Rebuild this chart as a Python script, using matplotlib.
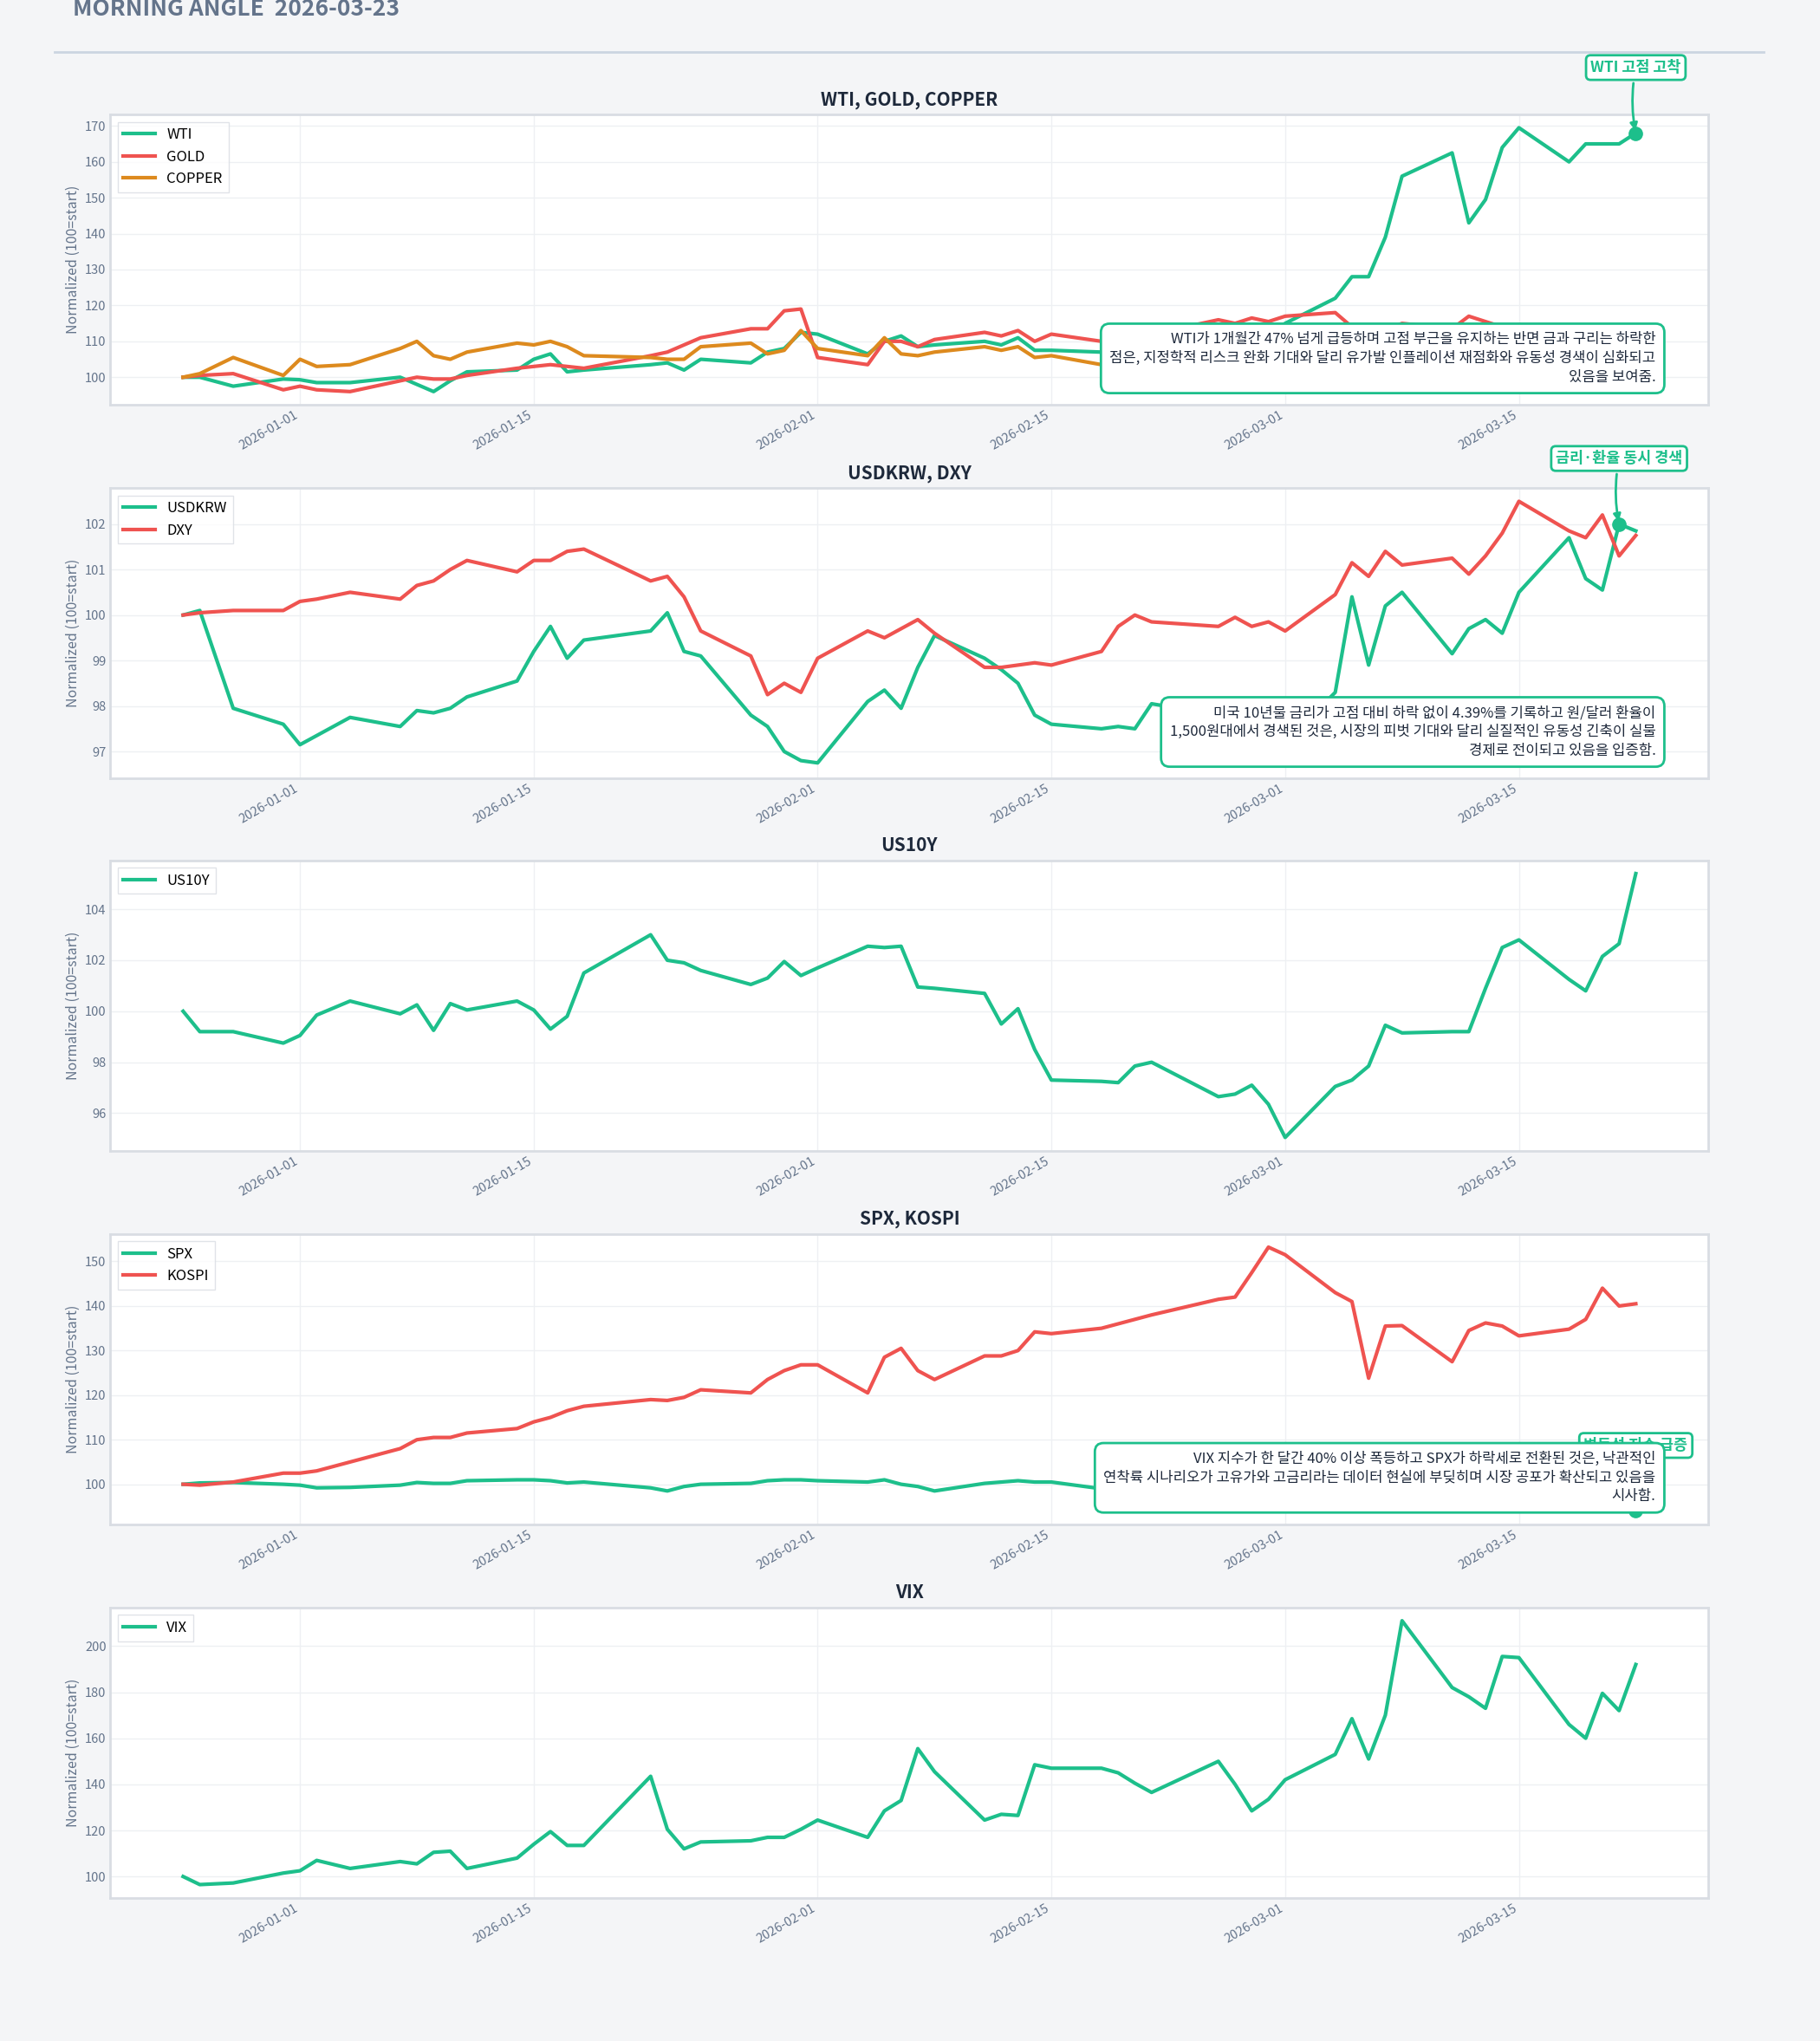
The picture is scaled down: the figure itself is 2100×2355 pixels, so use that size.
import matplotlib
matplotlib.use("Agg")
import matplotlib.pyplot as plt
import matplotlib.dates as mdates
import pandas as pd

plt.rcParams['font.family'] = ['Noto Sans CJK KR', 'DejaVu Sans']

day_offsets = [-7,-6,-4,-1,0,1,3,6,7,8, 9,10,13,14,15,16,17,21,22,23, 24,27,28,29,30,31,34,35,36,37,
               38,41,42,43,44,45,48,49,50,51, 55,56,57,58,59,62,63,64,65,66, 69,70,71,72,73,76,77,78,79,80]
dates = pd.Timestamp("2026-01-01") + pd.to_timedelta(day_offsets, unit="D")

wti = [100,100,97.5,99.5,99.3,98.5,98.5,100,98,96, 99,101.5,102,105,106.5,101.5,102,103.5,104,102,
       105,104,107,108,112.5,112,106.5,110,111.5,108.5, 109,110,109,111,107.5,107.5,107,110,114,114,
       114,112,111.5,111.5,115,122,128,128,139,156, 162.5,143,149.5,164,169.5,160,165,165,165,168]
gold = [100,100.5,101,96.5,97.5,96.5,96,99,100,99.5, 99.5,100.5,102.5,103,103.5,103,102.5,106,107,109,
        111,113.5,113.5,118.5,119,105.5,103.5,110,110,108.5, 110.5,112.5,111.5,113,110,112,110,109,110,112,
        116,115,116.5,115.5,117,118,114,114.5,113,115, 113.5,117,115.5,114,113,111.5,111,110.5,110,110]
copper = [100,101,105.5,100.5,105,103,103.5,108,110,106, 105,107,109.5,109,110,108.5,106,105.5,105,105,
          108.5,109.5,106.5,107.5,113,108,106,111,106.5,106, 107,108.5,107.5,108.5,105.5,106,103.5,104,105,106,
          105,104,105,106,107,106,105,106,107,106, 105,106,107,106,105,106,107,106,107,107]
usdkrw = [100,100.1,97.95,97.6,97.15,97.35,97.75,97.55,97.9,97.85, 97.95,98.2,98.55,99.2,99.75,99.05,99.45,99.65,100.05,99.2,
          99.1,97.8,97.55,97.0,96.8,96.75,98.1,98.35,97.95,98.85, 99.55,99.05,98.8,98.5,97.8,97.6,97.5,97.55,97.5,98.05,
          97.8,97.5,97.0,96.7,97.2,98.3,100.4,98.9,100.2,100.5, 99.15,99.7,99.9,99.6,100.5,101.7,100.8,100.55,102.0,101.85]
dxy = [100,100.05,100.1,100.1,100.3,100.35,100.5,100.35,100.65,100.75, 101.0,101.2,100.95,101.2,101.2,101.4,101.45,100.75,100.85,100.4,
       99.65,99.1,98.25,98.5,98.3,99.05,99.65,99.5,99.7,99.9, 99.6,98.85,98.85,98.9,98.95,98.9,99.2,99.75,100.0,99.85,
       99.75,99.95,99.75,99.85,99.65,100.45,101.15,100.85,101.4,101.1, 101.25,100.9,101.3,101.8,102.5,101.85,101.7,102.2,101.3,101.75]
us10y = [100,99.2,99.2,98.75,99.05,99.85,100.4,99.9,100.25,99.25, 100.3,100.05,100.4,100.05,99.3,99.8,101.5,103,102,101.9,
         101.6,101.05,101.3,101.95,101.4,101.7,102.55,102.5,102.55,100.95, 100.9,100.7,99.5,100.1,98.5,97.3,97.25,97.2,97.85,98.0,
         96.65,96.75,97.1,96.35,95.05,97.05,97.3,97.85,99.45,99.15, 99.2,99.2,100.9,102.5,102.8,101.25,100.8,102.15,102.65,105.4]
spx = [100,100.3,100.4,100,99.8,99.2,99.3,99.8,100.4,100.2, 100.2,100.8,101,101,100.8,100.3,100.5,99.2,98.5,99.5,
       100,100.2,100.8,101,101,100.8,100.5,101,100,99.5, 98.5,100.2,100.5,100.8,100.5,100.5,99,99,99,99,
       98,98,97.5,97,97.5,96,96,97,96,96.5, 97,97,96,96.5,96,96,97,96,95,94]
kospi = [100,99.8,100.5,102.5,102.5,103,105,108,110,110.5, 110.5,111.5,112.5,114,115,116.5,117.5,119,118.8,119.5,
         121.2,120.5,123.5,125.5,126.8,126.8,120.5,128.5,130.5,125.5, 123.5,128.8,128.8,130,134.2,133.8,135,136,137,138,
         141.5,142,147.5,153.2,151.5,143,141,123.8,135.5,135.6, 127.5,134.5,136.2,135.5,133.3,134.8,137,144,140,140.5]
vix = [100,96.5,97.2,101.5,102.5,107,103.5,106.5,105.5,110.5, 111,103.5,108,114,119.5,113.5,113.5,143.5,120.5,112,
       115,115.5,117,117,120.5,124.5,117,128.5,133,155.5, 145.5,124.5,127,126.5,148.5,147,147,145,140.5,136.5,
       150,140,128.5,133.5,142,153,168.5,151,170,211, 182,178,173,195.5,195,166,160,179.5,172,192]

GREEN, RED, ORANGE = "#1dbf8b", "#ef5350", "#dd8a1e"
panels = [
    ("WTI, GOLD, COPPER", [("WTI", wti, GREEN), ("GOLD", gold, RED), ("COPPER", copper, ORANGE)],
     "WTI가 1개월간 47% 넘게 급등하며 고점 부근을 유지하는 반면 금과 구리는 하락한\n점은, 지정학적 리스크 완화 기대와 달리 유가발 인플레이션 재점화와 유동성 경색이 심화되고\n있음을 보여줌.",
     ("WTI 고점 고착", wti, 59)),
    ("USDKRW, DXY", [("USDKRW", usdkrw, GREEN), ("DXY", dxy, RED)],
     "미국 10년물 금리가 고점 대비 하락 없이 4.39%를 기록하고 원/달러 환율이\n1,500원대에서 경색된 것은, 시장의 피벗 기대와 달리 실질적인 유동성 긴축이 실물\n경제로 전이되고 있음을 입증함.",
     ("금리·환율 동시 경색", usdkrw, 58)),
    ("US10Y", [("US10Y", us10y, GREEN)], None, None),
    ("SPX, KOSPI", [("SPX", spx, GREEN), ("KOSPI", kospi, RED)],
     "VIX 지수가 한 달간 40% 이상 폭등하고 SPX가 하락세로 전환된 것은, 낙관적인\n연착륙 시나리오가 고유가와 고금리라는 데이터 현실에 부딪히며 시장 공포가 확산되고 있음을\n시사함.",
     ("변동성 지수 급증", spx, 59)),
    ("VIX", [("VIX", vix, GREEN)], None, None),
]

fig = plt.figure(figsize=(21, 23.55), dpi=100, facecolor="#f4f5f7")
fig.text(0.04, 0.9955, "MORNING ANGLE  2026-03-23", fontsize=19, fontweight="bold",
         color="#64748b", va="center", ha="left")
fig.add_artist(plt.Line2D([0.03, 0.969], [0.9745, 0.9745], color="#cbd5e1", lw=2))

left, width, h = 0.0607, 0.878, 0.1422
tops = [1 - 88/1568, 1 - 375/1568, 1 - 661/1568, 1 - 948/1568, 1 - 1235/1568]
for (title, series, note, callout), top in zip(panels, tops):
    ax = fig.add_axes([left, top - h, width, h])
    ax.set_facecolor("white")
    for name, vals, c in series:
        ax.plot(dates, vals, color=c, lw=3, label=name, zorder=3)
    ax.set_title(title, fontsize=15, fontweight="bold", color="#1e293b", pad=8)
    ax.set_ylabel("Normalized (100=start)", fontsize=11.5, color="#64748b")
    ax.grid(True, color="#eef0f3", lw=1)
    for s in ax.spines.values():
        s.set_color("#d9dde3"); s.set_linewidth(2)
    ax.tick_params(colors="#64748b", labelsize=10.5, length=0)
    ax.xaxis.set_major_locator(mdates.DayLocator(bymonthday=[1, 15]))
    ax.xaxis.set_major_formatter(mdates.DateFormatter("%Y-%m-%d"))
    for lab in ax.get_xticklabels():
        lab.set_rotation(30); lab.set_ha("right")
    ax.margins(x=0.05)
    ax.legend(loc="upper left", fontsize=12, frameon=True, edgecolor="#d9dde3",
              fancybox=False, handlelength=2.2)
    if callout is not None:
        label, vals, i = callout
        ax.plot(dates[i], vals[i], "o", color=GREEN, ms=11, zorder=5)
        ax.annotate(label, xy=(dates[i], vals[i]), xytext=(0, 48), textcoords="offset points",
                    ha="center", va="bottom", fontsize=12.5, fontweight="bold", color=GREEN,
                    bbox=dict(boxstyle="round,pad=0.3", fc="white", ec=GREEN, lw=2),
                    arrowprops=dict(arrowstyle="-|>", color=GREEN, lw=2,
                                    connectionstyle="arc3,rad=0.1"), zorder=4)
    if note is not None:
        ax.text(0.967, 0.07, note, transform=ax.transAxes, ha="right", va="bottom",
                fontsize=12, color="#1e293b", linespacing=1.35, zorder=6,
                bbox=dict(boxstyle="round,pad=0.6", fc="white", ec=GREEN, lw=2))

fig.savefig("out.png", dpi=100, facecolor=fig.get_facecolor())
